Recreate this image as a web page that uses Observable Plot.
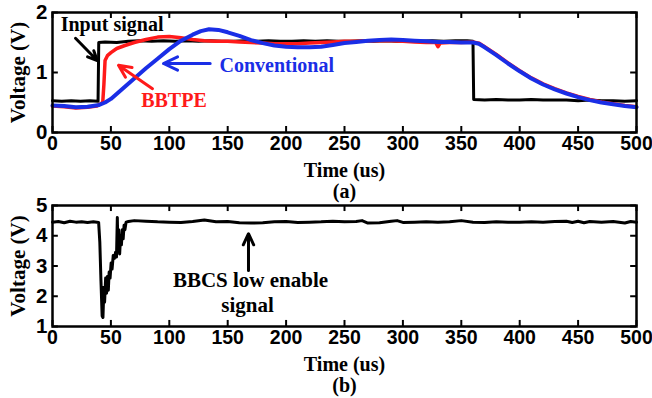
<!DOCTYPE html>
<html><head><meta charset="utf-8">
<script src="https://cdn.jsdelivr.net/npm/d3@7"></script>
<script src="https://cdn.jsdelivr.net/npm/@observablehq/plot@0.6"></script>
<style>
body{margin:0;background:#fff;}
#chart{position:relative;width:652px;height:398px;overflow:hidden;background:#fff;}
#chart svg{position:absolute;left:0;top:0;overflow:visible;background:transparent;}
</style></head><body><div id="chart"></div>
<script>
// ---- data ----
const timeTicks = [0,50,100,150,200,250,300,350,400,450,500];
const topVoltTicks = [0,1,2];
const bottomVoltTicks = [1,2,3,4,5];

const inputT = [0,8,16,24,32,39,39.6,45,55,65,75,85,95,105,115,125,135,145,155,165,175,185,195,205,215,225,235,245,255,265,275,285,295,305,315,325,335,345,355,360,360.6,370,380,390,400,410,420,430,440,450,460,470,480,490,500];
const inputV = [0.53,0.52,0.53,0.52,0.53,0.52,1.5,1.51,1.5,1.52,1.53,1.52,1.53,1.52,1.53,1.52,1.53,1.52,1.52,1.53,1.52,1.53,1.52,1.52,1.53,1.52,1.53,1.52,1.52,1.53,1.52,1.53,1.52,1.53,1.52,1.53,1.52,1.53,1.53,1.52,0.55,0.54,0.55,0.54,0.54,0.55,0.54,0.54,0.54,0.53,0.54,0.53,0.53,0.52,0.53];

const bbtpeT = [0,10,20,30,38,43,44,45,47,50,55,62,70,80,90,100,110,120,130,140,150,160,170,180,190,200,210,220,230,240,250,260,270,280,290,300,310,320,328,330,332,340,350,360,365,370,380,390,400,410,420,430,440,450,460,470,480,490,500];
const bbtpeV = [0.44,0.43,0.41,0.42,0.44,0.5,0.8,1.2,1.28,1.33,1.4,1.45,1.5,1.55,1.59,1.6,1.58,1.55,1.53,1.52,1.52,1.51,1.5,1.49,1.48,1.48,1.48,1.49,1.5,1.51,1.52,1.52,1.53,1.53,1.53,1.52,1.51,1.5,1.5,1.43,1.49,1.5,1.5,1.51,1.49,1.43,1.3,1.16,1.03,0.91,0.81,0.73,0.66,0.6,0.55,0.51,0.48,0.45,0.43];

const convT = [0,10,20,30,40,45,50,60,70,80,90,100,110,120,127,134,142,150,160,170,180,190,200,210,220,230,240,250,260,270,280,290,300,310,320,330,340,350,360,365,370,380,390,400,410,420,430,440,450,460,470,480,490,500];
const convV = [0.45,0.44,0.42,0.43,0.46,0.5,0.56,0.73,0.9,1.07,1.23,1.39,1.53,1.63,1.69,1.72,1.71,1.67,1.61,1.54,1.49,1.45,1.43,1.42,1.42,1.43,1.46,1.49,1.51,1.53,1.54,1.55,1.54,1.53,1.52,1.51,1.51,1.5,1.5,1.48,1.42,1.29,1.15,1.02,0.9,0.8,0.72,0.65,0.59,0.54,0.5,0.47,0.44,0.42];

const bbcsT = [0,5,10,15,20,25,30,35,39.5,40.5,41.5,42.5,43.2,44,44.6,45.5,46.3,47,47.8,48.5,49.3,50.2,51,52,53,54,54.8,55.5,56,56.8,57.5,58.3,59,59.8,60.5,61.3,62,63,65,70,80,90,100,110,120,130,140,150,160,170,180,190,200,210,220,230,240,250,260,265,270,280,290,295,300,310,320,330,340,350,360,370,380,390,400,410,420,430,440,445,450,455,460,470,480,490,495,500];
const bbcsV = [4.45,4.47,4.43,4.48,4.45,4.46,4.44,4.46,4.44,3.8,2.5,1.35,1.3,2.3,1.8,2.6,2.1,2.65,2.2,2.8,2.6,3.1,2.9,3.35,3.25,3.45,3.3,4.6,3.6,4.2,3.4,4.0,3.7,4.2,3.9,4.35,4.2,4.45,4.47,4.5,4.48,4.46,4.45,4.44,4.47,4.52,4.46,4.47,4.43,4.42,4.43,4.46,4.47,4.44,4.45,4.46,4.48,4.46,4.47,4.5,4.42,4.43,4.48,4.5,4.44,4.45,4.46,4.45,4.46,4.5,4.45,4.44,4.46,4.45,4.45,4.46,4.45,4.47,4.48,4.44,4.48,4.43,4.47,4.45,4.47,4.42,4.47,4.45];

// annotations (data units)
const topLabels = [
  {t: 51, v: 1.8, text: "Input signal", color: "black"},
  {t: 104, v: 0.53, text: "BBTPE", color: "#ff1a1a"},
  {t: 192, v: 1.12, text: "Conventional", color: "#1a2ee6"}
];
const topArrows = [
  {t1: 19.7, v1: 1.57, t2: 38.3, v2: 1.2, color: "black"},
  {t1: 85.6, v1: 0.73, t2: 56.5, v2: 1.12, color: "#ff1a1a"},
  {t1: 135, v1: 1.15, t2: 95, v2: 1.15, color: "#1a2ee6"}
];
const bottomLabels = [
  {t: 169.5, v: 2.52, text: "BBCS low enable"},
  {t: 167, v: 1.69, text: "signal"}
];
const bottomArrows = [{t1: 167.8, v1: 2.85, t2: 167.8, v2: 4.07}];

const zip = (T, V) => T.map((t, i) => ({t, v: V[i]}));
const serif = "'Liberation Serif','Times New Roman',serif";
const sans = "'Liberation Sans',Arial,sans-serif";

function panel({mt, mb, yDomain, yTicks, lines, labels, arrows, panelLabel, labelSize}) {
  const [y0, y1] = yDomain;
  const ylen = (y1 - y0) * 0.05;
  return Plot.plot({
    width: 652, height: 398,
    marginLeft: 52, marginRight: 16, marginTop: mt, marginBottom: mb,
    style: {background: "transparent", overflow: "visible"},
    x: {domain: [0, 500]},
    y: {domain: yDomain},
    marks: [
      Plot.axisX(timeTicks, {tickSize: 0, tickPadding: 4, tickFormat: d => String(d), fontSize: 19.5, fontWeight: "bold", fontFamily: sans, label: null, fill: "black"}),
      Plot.axisY(yTicks, {tickSize: 0, tickPadding: 5, tickFormat: d => String(d), fontSize: 20.5, fontWeight: "bold", fontFamily: sans, label: null, fill: "black"}),
      Plot.ruleX(timeTicks, {x: d => d, y1: y0, y2: y0 + ylen, stroke: "black", strokeWidth: 2}),
      Plot.ruleX(timeTicks, {x: d => d, y1: y1, y2: y1 - ylen, stroke: "black", strokeWidth: 2}),
      Plot.ruleY(yTicks, {y: d => d, x1: 0, x2: 5, stroke: "black", strokeWidth: 2}),
      Plot.ruleY(yTicks, {y: d => d, x1: 500, x2: 495, stroke: "black", strokeWidth: 2}),
      ...lines.map(l => Plot.line(l.data, {x: "t", y: "v", stroke: l.color, strokeWidth: l.width, strokeLinejoin: "round"})),
      Plot.arrow(arrows, {x1: "t1", y1: "v1", x2: "t2", y2: "v2", stroke: d => d.color ?? "black", strokeWidth: 3, headLength: 12, headAngle: 50}),
      Plot.text(labels, {x: "t", y: "v", text: "text", fill: d => d.color ?? "black", fontSize: labelSize, fontWeight: "bold", fontFamily: serif, textAnchor: "middle", lineAnchor: "middle"}),
      Plot.frame({stroke: "black", strokeWidth: 2.5}),
      Plot.text(["Time (us)"], {text: d => d, frameAnchor: "bottom", dy: 38, fontSize: 20, fontWeight: "bold", fontFamily: serif, lineAnchor: "middle", fill: "black"}),
      Plot.text([panelLabel], {text: d => d, frameAnchor: "bottom", dy: 59, fontSize: 20, fontWeight: "bold", fontFamily: serif, lineAnchor: "middle", fill: "black"}),
      Plot.text(["Voltage (V)"], {text: d => d, frameAnchor: "left", dx: -34, rotate: -90, fontSize: 21, fontWeight: "bold", fontFamily: serif, lineAnchor: "middle", textAnchor: "middle", fill: "black"})
    ]
  });
}

const topPanel = panel({
  mt: 12, mb: 398 - 132, yDomain: [0, 2], yTicks: topVoltTicks,
  lines: [
    {data: zip(inputT, inputV), color: "black", width: 3},
    {data: zip(bbtpeT, bbtpeV), color: "#ff1a1a", width: 3.5},
    {data: zip(convT, convV), color: "#1a2ee6", width: 4}
  ],
  labels: topLabels, arrows: topArrows, panelLabel: "(a)", labelSize: 20
});
const bottomPanel = panel({
  mt: 205, mb: 398 - 326, yDomain: [1, 5], yTicks: bottomVoltTicks,
  lines: [{data: zip(bbcsT, bbcsV), color: "black", width: 3}],
  labels: bottomLabels, arrows: bottomArrows, panelLabel: "(b)", labelSize: 21
});
const chart = document.getElementById("chart");
chart.appendChild(topPanel);
chart.appendChild(bottomPanel);
</script></body></html>
